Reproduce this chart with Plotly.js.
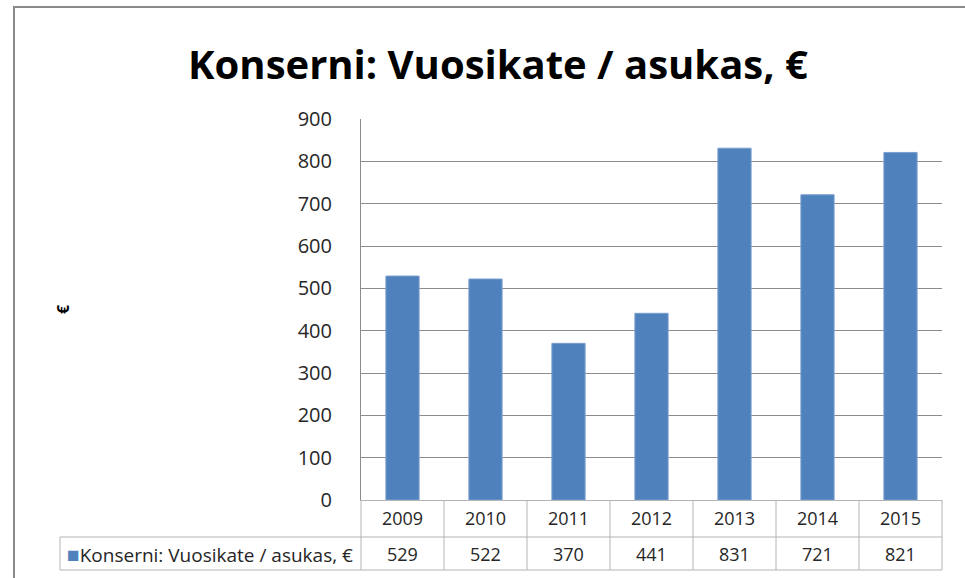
<!DOCTYPE html>
<html>
<head>
<meta charset="utf-8">
<script src="https://cdn.plot.ly/plotly-3.0.1.min.js"></script>
<style>html,body{margin:0;padding:0;background:#fff;}#chart{width:965px;height:578px;}</style>
</head>
<body>
<div id="chart"></div>
<script>
var years = ['2009', '2010', '2011', '2012', '2013', '2014', '2015'];
var values = [529, 522, 370, 441, 831, 721, 821];
var seriesName = 'Konserni: Vuosikate / asukas, €';
var chartTitle = 'Konserni: Vuosikate / asukas, €';
var yTicks = [0, 100, 200, 300, 400, 500, 600, 700, 800, 900];
var yAxisTitle = '€';

var W = 965, H = 578;
var L = 361, R = 942, T = 119, B = 500;
var pw = R - L, ph = B - T;
function px2x(p) { return (p - L) / pw; }
function py2y(p) { return (B - p) / ph; }

var FONT = 'Open Sans, sans-serif';
var tableColor = '#b4b4b4';
var rowTop = 500, rowMid = 537, rowBot = 570, cellLeft = 60;

var shapes = [];
// vertical column lines of the data table
for (var k = 0; k <= years.length; k++) {
  shapes.push({type: 'line', xref: 'paper', yref: 'paper',
    x0: k / years.length, x1: k / years.length, y0: py2y(rowTop), y1: py2y(rowBot),
    line: {color: tableColor, width: 1}});
}
shapes.push({type: 'line', xref: 'paper', yref: 'paper', x0: px2x(cellLeft), x1: 1,
  y0: py2y(rowMid), y1: py2y(rowMid), line: {color: tableColor, width: 1}});
shapes.push({type: 'line', xref: 'paper', yref: 'paper', x0: px2x(cellLeft), x1: 1,
  y0: py2y(rowBot), y1: py2y(rowBot), line: {color: tableColor, width: 1}});
shapes.push({type: 'line', xref: 'paper', yref: 'paper', x0: px2x(cellLeft), x1: px2x(cellLeft),
  y0: py2y(rowMid), y1: py2y(rowBot), line: {color: tableColor, width: 1}});
// outer chart border
shapes.push({type: 'line', xref: 'paper', yref: 'paper', x0: px2x(14), x1: px2x(14),
  y0: py2y(7), y1: py2y(590), line: {color: '#8a8a8a', width: 2}});
shapes.push({type: 'line', xref: 'paper', yref: 'paper', x0: px2x(13), x1: px2x(980),
  y0: py2y(7), y1: py2y(7), line: {color: '#8a8a8a', width: 2}});

var annotations = [];
for (var i = 0; i < years.length; i++) {
  annotations.push({x: i, xref: 'x', yref: 'paper', y: py2y((rowMid + rowBot) / 2),
    text: String(values[i]), showarrow: false, xanchor: 'center', yanchor: 'middle',
    font: {family: FONT, size: 18, color: '#262626'}});
}
// legend key inside table cell
annotations.push({xref: 'paper', yref: 'paper', x: px2x(65), y: py2y((rowMid + rowBot) / 2),
  text: '<span style="color:#4f81bd;font-size:21px">■</span>' + seriesName, showarrow: false,
  xanchor: 'left', yanchor: 'middle', font: {family: FONT, size: 19, color: '#262626'}});

var trace = {
  type: 'bar', x: years, y: values, name: seriesName,
  marker: {color: '#4f81bd', line: {color: '#7a9fd0', width: 1}},
  width: 0.4, showlegend: false
};

var layout = {
  width: W, height: H,
  margin: {l: L, r: W - R, t: T, b: H - B, pad: 0},
  paper_bgcolor: '#ffffff', plot_bgcolor: '#ffffff',
  title: {text: '<b>' + chartTitle + '</b>', x: 0.516, xref: 'container', xanchor: 'center',
    y: 1 - 65 / H, yref: 'container', yanchor: 'middle',
    font: {family: FONT, size: 40, color: '#000000'}},
  xaxis: {type: 'category', categoryorder: 'array', categoryarray: years,
    range: [-0.5, years.length - 0.5], autorange: false,
    showgrid: false, zeroline: false, showline: true, linecolor: tableColor, linewidth: 1,
    ticks: '', ticklabelstandoff: 2, tickfont: {family: FONT, size: 18, color: '#262626'},
    fixedrange: true},
  yaxis: {range: [0, 900], autorange: false, tickvals: yTicks, ticktext: yTicks.map(String),
    showgrid: true, gridcolor: '#8c8c8c', gridwidth: 1, zeroline: false,
    showline: true, linecolor: '#8c8c8c', linewidth: 1, ticks: '',
    ticklabelstandoff: 24, tickfont: {family: FONT, size: 20, color: '#262626'},
    title: {text: '<b>' + yAxisTitle + '</b>', standoff: 224, font: {family: FONT, size: 16, color: '#000'}},
    automargin: false, fixedrange: true},
  bargap: 0.6,
  shapes: shapes,
  annotations: annotations,
  showlegend: false
};

Plotly.newPlot('chart', [trace], layout, {displayModeBar: false, staticPlot: true});
</script>
</body>
</html>
